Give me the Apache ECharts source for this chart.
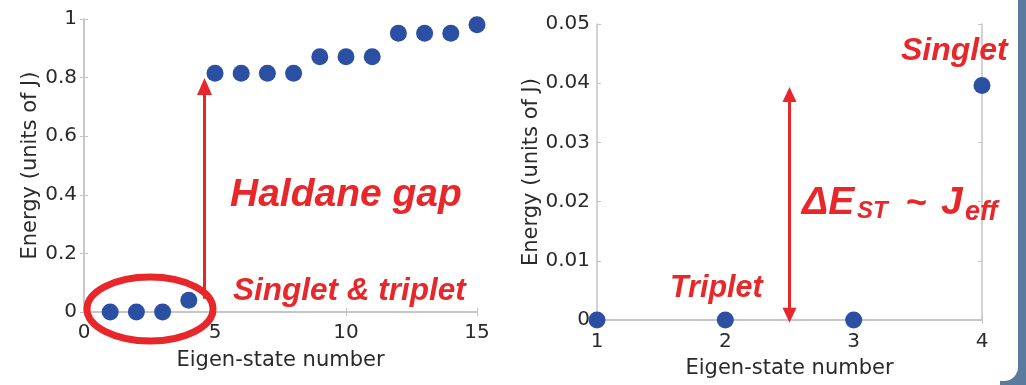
<!DOCTYPE html>
<html>
<head>
<meta charset="utf-8">
<script src="https://cdn.jsdelivr.net/npm/echarts@6/dist/echarts.min.js"></script>
<style>
  html, body { margin: 0; padding: 0; background: #fff; }
  #chart { width: 1026px; height: 385px; }
</style>
</head>
<body>
<div id="chart"></div>
<script>
// left panel: full spectrum
const leftStates = [1, 2, 3, 4, 5, 6, 7, 8, 9, 10, 11, 12, 13, 14, 15];
const leftEnergy = [0, 0, 0, 0.04, 0.815, 0.815, 0.815, 0.815, 0.871, 0.871, 0.871, 0.951, 0.951, 0.951, 0.98];
const leftXTicks = [0, 5, 10, 15];
const leftYTicks = [0, 0.2, 0.4, 0.6, 0.8, 1];

// right panel: lowest four states
const rightStates = [1, 2, 3, 4];
const rightEnergy = [0, 0, 0, 0.0396];
const rightXTicks = [1, 2, 3, 4];
const rightYTicks = [0, 0.01, 0.02, 0.03, 0.04, 0.05];

const xName = 'Eigen-state number';
const yName = 'Energy (units of J)';

const RED = '#e8272b';
const DOT = '#2b4fa3';
const AXIS = '#c4c4c4';
const TXT = '#2a2a2a';
const FONT = 'DejaVu Sans';
const BOLD = 'Liberation Sans';

const chart = echarts.init(document.getElementById('chart'), null, { renderer: 'canvas' });

function axisBase(ticks, extra) {
  return Object.assign({
    type: 'value',
    min: ticks[0],
    max: ticks[ticks.length - 1],
    interval: ticks[1] - ticks[0],
    splitLine: { show: false },
    axisLine: { show: true, lineStyle: { color: AXIS, width: 1.5 } },
    axisTick: { show: true, inside: true, length: 4, lineStyle: { color: AXIS, width: 1 } },
    axisLabel: { show: false },
    nameTextStyle: { fontFamily: FONT, fontSize: 21, color: TXT }
  }, extra);
}

function labels(margin) {
  return { show: true, fontFamily: FONT, fontSize: 20, color: TXT, margin: margin };
}

function redText(x, y, text, size, italic) {
  return {
    type: 'text', z: 50, x: x, y: y,
    style: { text: text, fill: RED, font: (italic === false ? '' : 'italic ') + 'bold ' + size + 'px "' + BOLD + '"', verticalAlign: 'middle' }
  };
}

const option = {
  animation: false,
  backgroundColor: '#fff',
  grid: [
    { left: 84, top: 19, width: 393, height: 293 },
    { left: 597, top: 24, width: 385, height: 296 }
  ],
  xAxis: [
    axisBase(leftXTicks, { gridIndex: 0, position: 'bottom', axisLabel: labels(11), name: xName, nameLocation: 'middle', nameGap: 38 }),
    axisBase(leftXTicks, { gridIndex: 0, position: 'top' }),
    axisBase(rightXTicks, { gridIndex: 1, position: 'bottom', axisLabel: labels(12), name: xName, nameLocation: 'middle', nameGap: 38 }),
    axisBase(rightXTicks, { gridIndex: 1, position: 'top' })
  ],
  yAxis: [
    axisBase(leftYTicks, { gridIndex: 0, position: 'left', axisLabel: labels(7), name: yName, nameLocation: 'middle', nameGap: 39 }),
    axisBase(leftYTicks, { gridIndex: 0, position: 'right' }),
    axisBase(rightYTicks, { gridIndex: 1, position: 'left', axisLabel: labels(7), name: yName, nameLocation: 'middle', nameGap: 52 }),
    axisBase(rightYTicks, { gridIndex: 1, position: 'right' })
  ],
  series: [
    {
      type: 'scatter',
      xAxisIndex: 0,
      yAxisIndex: 0,
      clip: false,
      symbolSize: 17,
      itemStyle: { color: DOT, opacity: 1 },
      data: leftStates.map((s, i) => [s, leftEnergy[i]]),
      markLine: {
        silent: true,
        symbol: ['none', 'triangle'],
        symbolSize: [15, 17],
        label: { show: false },
        lineStyle: { color: RED, width: 3, type: 'solid', opacity: 1 },
        data: [[{ coord: [4.6, 0.045] }, { coord: [4.6, 0.77] }]]
      }
    },
    {
      type: 'scatter',
      xAxisIndex: 2,
      yAxisIndex: 2,
      clip: false,
      symbolSize: 17,
      itemStyle: { color: DOT, opacity: 1 },
      data: rightStates.map((s, i) => [s, rightEnergy[i]]),
      markLine: {
        silent: true,
        symbol: ['triangle', 'triangle'],
        symbolSize: [14, 15],
        label: { show: false },
        lineStyle: { color: RED, width: 3, type: 'solid', opacity: 1 },
        data: [[{ coord: [2.5, 0.0008] }, { coord: [2.5, 0.0381] }]]
      }
    }
  ],
  graphic: [
    // slide frame at the right edge
    { type: 'rect', z: -10, shape: { x: 1000, y: -5, width: 40, height: 400 }, style: { fill: '#5a7b9e' } },
    { type: 'rect', z: -9, shape: { x: -20, y: -20, width: 1038, height: 401, r: [0, 0, 14, 0] }, style: { fill: '#fff' } },
    // ring around the low-lying states
    { type: 'ellipse', z: 50, shape: { cx: 150, cy: 309, rx: 63, ry: 32 }, style: { fill: 'none', stroke: RED, lineWidth: 7 } },
    redText(230, 195, 'Haldane gap', 39),
    redText(233, 291, 'Singlet & triplet', 31.5),
    redText(901, 51, 'Singlet', 32),
    redText(670, 289, 'Triplet', 30.5),
    redText(802, 203, 'ΔE', 39),
    redText(857, 211, 'ST', 24),
    redText(906, 204, '~', 36, false),
    redText(941, 203, 'J', 39),
    redText(965, 213, 'eff', 27)
  ]
};

chart.setOption(option);
</script>
</body>
</html>
